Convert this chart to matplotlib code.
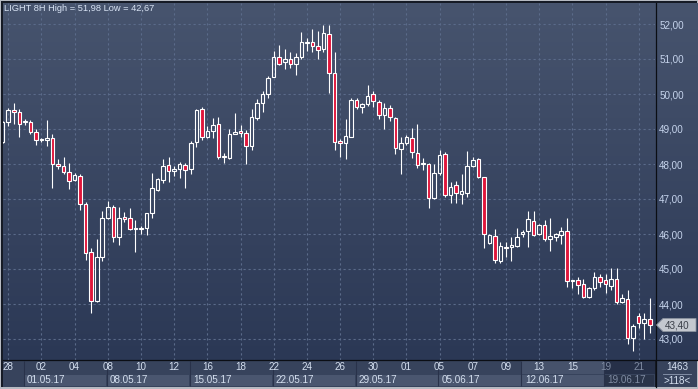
import numpy as np
import matplotlib
matplotlib.use('Agg')
import matplotlib.pyplot as plt
from matplotlib.patches import Rectangle, Polygon
from matplotlib.colors import LinearSegmentedColormap
from matplotlib import transforms

plt.rcParams['font.family'] = ['Liberation Sans', 'DejaVu Sans']

# LIGHT, 8H candles, 27.04.17 .. 21.06.17
opens = [48.64, 49.21, 49.54, 49.48, 49.19, 49.19, 48.92, 48.68, 48.69, 48.74,
         47.99, 47.93, 47.76, 47.53, 47.66, 46.85, 45.48, 44.09, 45.35, 46.47,
         46.76, 45.92, 46.48, 46.45, 46.13, 46.15, 46.16, 46.59, 47.27, 47.55,
         47.97, 47.79, 47.85, 47.97, 47.85, 48.62, 49.56, 48.78, 48.94, 49.14,
         48.20, 48.18, 48.87, 48.93, 48.88, 48.51, 49.31, 49.73, 50.00, 50.49,
         51.05, 50.91, 51.00, 50.87, 51.05, 51.46, 51.48, 51.36, 51.28, 51.71,
         50.59, 48.65, 48.59, 48.78, 49.83, 49.62, 49.71, 49.99, 49.76, 49.41,
         49.59, 49.31, 48.42, 48.61, 48.73, 48.32, 47.99, 48.00, 47.02, 47.73,
         48.28, 47.11, 47.39, 47.13, 47.18, 47.95, 48.14, 47.62, 45.73, 45.94,
         45.24, 45.64, 45.62, 45.66, 45.99, 46.09, 46.38, 45.99, 46.26, 45.86,
         45.92, 45.96, 46.08, 44.65, 44.68, 44.56, 44.21, 44.45, 44.76, 44.69,
         44.52, 44.71, 44.07, 44.14, 43.02, 43.65, 43.47, 43.56]
highs = [49.22, 49.61, 49.74, 49.57, 49.29, 49.25, 49.00, 48.75, 49.26, 48.85,
         48.13, 48.20, 48.02, 47.73, 47.71, 46.91, 45.59, 45.86, 46.66, 46.94,
         46.83, 46.76, 46.62, 46.74, 46.40, 46.23, 46.61, 47.73, 47.60, 48.14,
         48.20, 47.94, 48.06, 48.02, 48.66, 49.57, 49.62, 49.09, 49.31, 49.33,
         48.32, 49.00, 49.46, 49.11, 48.97, 49.57, 49.86, 50.09, 50.51, 51.23,
         51.40, 51.29, 51.19, 51.16, 51.76, 51.61, 51.86, 51.81, 51.98, 51.97,
         51.19, 48.71, 49.29, 49.89, 49.88, 49.75, 50.26, 50.09, 49.83, 49.73,
         49.69, 49.33, 48.78, 48.83, 49.02, 49.14, 48.16, 48.04, 48.00, 48.40,
         48.35, 47.49, 47.52, 47.71, 48.37, 48.21, 48.16, 47.62, 46.00, 46.13,
         45.78, 45.78, 45.91, 46.16, 46.11, 46.67, 46.66, 46.30, 46.41, 46.46,
         46.04, 46.19, 46.45, 44.68, 44.76, 44.71, 44.48, 44.91, 44.86, 44.86,
         45.03, 45.02, 44.29, 44.40, 43.43, 43.73, 43.73, 44.16]
lows = [48.60, 49.09, 49.15, 48.78, 49.11, 48.85, 48.54, 48.64, 48.52, 47.32,
        47.86, 47.71, 47.28, 47.51, 46.69, 45.27, 43.73, 44.07, 45.24, 46.43,
        45.78, 45.69, 46.35, 46.11, 45.49, 45.99, 45.97, 46.45, 47.24, 47.47,
        47.49, 47.67, 47.59, 47.32, 47.72, 48.50, 48.69, 48.75, 48.75, 48.14,
        48.02, 48.14, 48.85, 48.78, 48.00, 48.40, 49.27, 49.49, 49.88, 50.48,
        50.83, 50.71, 50.75, 50.54, 51.01, 51.24, 51.19, 51.00, 51.21, 50.04,
        48.40, 48.21, 48.14, 48.76, 49.56, 49.47, 49.66, 49.64, 49.29, 49.01,
        49.24, 48.29, 47.71, 48.54, 48.16, 47.88, 47.83, 46.73, 46.99, 47.69,
        47.07, 46.88, 46.89, 46.87, 47.07, 47.92, 47.59, 45.61, 45.71, 45.16,
        45.18, 45.35, 45.24, 45.62, 45.92, 45.64, 45.94, 45.98, 45.79, 45.52,
        45.80, 45.71, 44.49, 44.45, 44.29, 44.17, 44.16, 44.40, 44.48, 44.32,
        44.40, 44.00, 44.04, 42.86, 42.67, 43.31, 42.99, 43.18]
closes = [49.19, 49.54, 49.48, 49.15, 49.23, 48.92, 48.69, 48.71, 48.74, 48.01,
          47.93, 47.76, 47.51, 47.69, 46.85, 45.45, 44.09, 45.33, 46.45, 46.76,
          45.92, 46.45, 46.42, 46.15, 46.16, 46.17, 46.59, 47.31, 47.57, 47.94,
          47.79, 47.85, 48.00, 47.82, 48.59, 49.53, 48.78, 48.94, 49.11, 48.21,
          48.23, 48.86, 48.91, 48.88, 48.51, 49.33, 49.73, 49.99, 50.45, 51.05,
          50.87, 51.00, 50.87, 51.05, 51.48, 51.48, 51.36, 51.25, 51.73, 50.59,
          48.64, 48.59, 48.80, 49.83, 49.62, 49.71, 49.95, 49.80, 49.39, 49.59,
          49.33, 48.45, 48.61, 48.76, 48.33, 47.97, 48.02, 47.02, 47.73, 48.26,
          47.11, 47.35, 47.16, 47.23, 47.94, 48.11, 47.62, 45.99, 45.97, 45.26,
          45.66, 45.59, 45.69, 45.91, 46.05, 46.42, 45.97, 46.26, 45.86, 45.94,
          45.99, 46.08, 44.65, 44.68, 44.54, 44.21, 44.45, 44.76, 44.64, 44.56,
          44.71, 44.07, 44.16, 43.02, 43.37, 43.45, 43.56, 43.40]

day_labels = ['28', '02', '04', '08', '10', '12', '16', '18', '22', '24',
              '26', '30', '01', '05', '07', '09', '13', '15', '19', '21']
week_labels = ['01.05.17', '08.05.17', '15.05.17', '22.05.17',
               '29.05.17', '05.06.17', '12.06.17', '19.06.17']
price_ticks = [43, 44, 45, 46, 47, 48, 49, 50, 51, 52]
title = 'LIGHT 8H High = 51,98 Low = 42,67'
total_bars = '1463'
shown_bars = '>118<'

FS = 7.1

W, H = 698, 389
fig = plt.figure(figsize=(W / 100, H / 100), dpi=100)
fig.patch.set_facecolor('#b6bac2')
# pixel coords measured from top-left corner
px = transforms.Affine2D().scale(1 / W, -1 / H).translate(0, 1) + fig.transFigure


def rect(x0, y0, x1, y1, color, z=-5):
    fig.patches.append(Rectangle((x0, y0), x1 - x0, y1 - y0, transform=px,
                                 facecolor=color, edgecolor='none', zorder=z))


rect(1, 1, 697, 387, '#161b26', z=-10)

# gradient background
bg = fig.add_axes([3 / W, 1 - 360 / H, (W - 3) / W, 357 / H], zorder=-1)
cmap = LinearSegmentedColormap.from_list('bg', ['#47546e', '#2b3855'])
bg.imshow(np.linspace(0, 1, 256).reshape(-1, 1), aspect='auto', cmap=cmap,
          extent=[0, 1, 0, 1], origin='upper')
bg.axis('off')

n = len(closes)
idx = np.arange(n)
o = np.array(opens)
c = np.array(closes)
hi = np.array(highs)
lo = np.array(lows)
top = np.maximum(o, c)
bot = np.minimum(o, c)
up = c >= o

x_left, x_right = 0.05, 117.95
y_low, y_high = 42.4, 52.6

ax = fig.add_axes([3 / W, 1 - 360 / H, 652 / W, 357 / H])
ax.set_facecolor('none')
ax.set_xlim(x_left, x_right)
ax.set_ylim(y_low, y_high)

day_pos = [1 + 6 * j for j in range(len(day_labels))]
ax.set_xticks(day_pos)
ax.set_yticks(price_ticks)
ax.set_yticklabels(['{:.2f}'.format(v).replace('.', ',') for v in price_ticks])
ax.yaxis.tick_right()
ax.tick_params(axis='x', length=0, labelbottom=False)
ax.tick_params(axis='y', length=0, pad=3, labelsize=FS, labelcolor='#c6d4ec')
ax.grid(True, color='#5b6b8a', linestyle=(0, (2, 2.5)), linewidth=0.8)
for s in ax.spines.values():
    s.set_visible(False)

ax.vlines(idx, top, hi, color='white', lw=0.8, zorder=3)
ax.vlines(idx, lo, bot, color='white', lw=0.8, zorder=3)
ax.bar(idx, np.maximum(top - bot, 0.015), bottom=bot, width=0.64,
       color=['none' if u else '#e0163b' for u in up],
       edgecolor='white', linewidth=0.8, zorder=4)

# title
fig.text(4 / W, 1 - 8.5 / H, title, ha='left', va='center', fontsize=6.7,
         color='#d9e4f5')

# date strip
sx = fig.add_axes([3 / W, 1 - 387 / H, 652 / W, 26 / H])
sx.set_xlim(x_left, x_right)
sx.set_ylim(0, 26)
sx.axis('off')
sx.add_patch(Rectangle((x_left, 0), x_right - x_left, 26, facecolor='#37435c',
                       edgecolor='none'))
week_start = [3.8 + 15 * w for w in range(len(week_labels))]
for w, lab in enumerate(week_labels):
    x0 = week_start[w]
    x1 = week_start[w + 1] if w + 1 < len(week_start) else x_right
    col, tcol = '#4a566f', '#d5e0f0'
    if w == len(week_labels) - 2:
        sx.add_patch(Rectangle((x0, 13), x1 - x0, 13, facecolor='#46526b', edgecolor='none'))
    if w == len(week_labels) - 1:
        sx.add_patch(Rectangle((x0, 13), x1 - x0, 13, facecolor='#263048', edgecolor='none'))
        col, tcol = '#2a3449', '#7f8ba2'
    sx.add_patch(Rectangle((x0 + 0.1, 1.5), x1 - x0 - 0.2, 11, facecolor=col,
                           edgecolor='none'))
    sx.vlines(x0, 1.5, 26, color='#29324a', lw=0.8)
    sx.text(x0 + 0.6, 7, lab, ha='left', va='center', fontsize=FS, color=tcol)
for p, lab in zip(day_pos, day_labels):
    tcol = '#7f8ba2' if p > week_start[-1] else '#d5e0f0'
    sx.text(p, 19.5, lab, ha='center', va='center', fontsize=FS, color=tcol)

# right corner of the strip
rect(656, 361, 697, 387, '#37435c', z=-4)
fig.text(677 / W, 1 - 367.5 / H, total_bars, ha='center', va='center',
         fontsize=FS, color='#d5e0f0')
fig.lines.append(plt.Line2D([663, 691], [374, 374], transform=px, color='#8e9ab0', lw=0.6))
fig.text(677 / W, 1 - 380.5 / H, shown_bars, ha='center', va='center',
         fontsize=FS, color='#d5e0f0')

# separators
fig.lines.append(plt.Line2D([655.5, 655.5], [3, 387], transform=px, color='#0b0e14', lw=0.9))
fig.lines.append(plt.Line2D([3, 698], [360.5, 360.5], transform=px, color='#0b0e14', lw=0.9))

# last price tag
last = closes[-1]
dy = 6.5 * (y_high - y_low) / 357
tag_tr = transforms.blended_transform_factory(px, ax.transData)
fig.patches.append(Polygon([(656.5, last), (663, last + dy), (696, last + dy),
                            (696, last - dy), (663, last - dy)], closed=True,
                           transform=tag_tr, facecolor='#c4c8cf', edgecolor='#8c93a0',
                           lw=0.6, zorder=20))
fig.text(0, 0, '{:.2f}'.format(last).replace('.', ','), transform=tag_tr,
         ha='left', va='center', fontsize=FS, color='#3a3f48', zorder=21).set_position((665, last))

fig.savefig('out.png', dpi=100, facecolor=fig.get_facecolor())
